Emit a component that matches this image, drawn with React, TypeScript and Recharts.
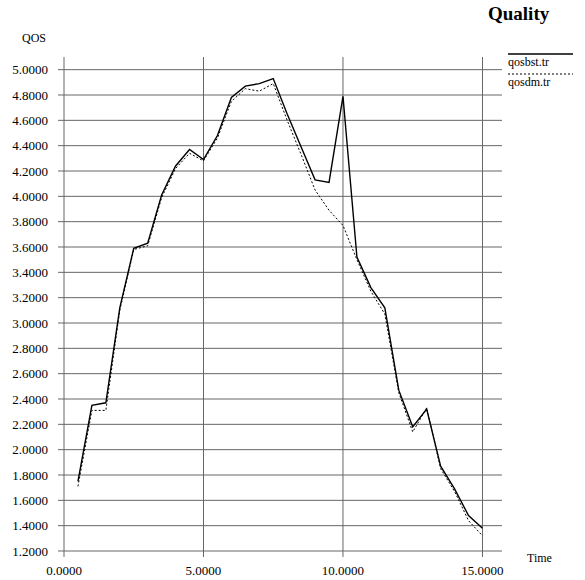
import { LineChart, Line, XAxis, YAxis, ReferenceLine } from "recharts";

const times = [
  0.5, 1.0, 1.5, 2.0, 2.5, 3.0, 3.5, 4.0, 4.5, 5.0, 5.5, 6.0, 6.5, 7.0, 7.5,
  8.0, 8.5, 9.0, 9.5, 10.0, 10.5, 11.0, 11.5, 12.0, 12.5, 13.0, 13.5, 14.0,
  14.5, 15.0,
];

const qosbst = [
  1.75, 2.35, 2.37, 3.12, 3.59, 3.63, 4.01, 4.24, 4.37, 4.29, 4.48, 4.78, 4.87,
  4.89, 4.93, 4.65, 4.39, 4.13, 4.11, 4.79, 3.52, 3.28, 3.12, 2.47, 2.18, 2.32,
  1.87, 1.69, 1.48, 1.38,
];

const qosdm = [
  1.71, 2.31, 2.31, 3.1, 3.58, 3.61, 3.99, 4.22, 4.34, 4.28, 4.46, 4.75, 4.85,
  4.83, 4.89, 4.6, 4.33, 4.05, 3.89, 3.77, 3.5, 3.25, 3.07, 2.45, 2.14, 2.33,
  1.85, 1.67, 1.44, 1.32,
];

const xTicks = [0, 5, 10, 15];
const yTicks = [
  1.2, 1.4, 1.6, 1.8, 2.0, 2.2, 2.4, 2.6, 2.8, 3.0, 3.2, 3.4, 3.6, 3.8, 4.0,
  4.2, 4.4, 4.6, 4.8, 5.0,
];

const series = [
  { key: "qosbst", label: "qosbst.tr", width: 1.4, dash: undefined },
  { key: "qosdm", label: "qosdm.tr", width: 1, dash: "2 2" },
];

const data = times.map((t, i) => ({ t, qosbst: qosbst[i], qosdm: qosdm[i] }));

const font = "'Liberation Serif', 'DejaVu Serif', serif";
const grid = "#666";

export default function App() {
  return (
    <div
      style={{
        position: "absolute",
        left: 0,
        top: 0,
        width: 585,
        height: 580,
        background: "#fff",
        fontFamily: font,
      }}
    >
      <div
        style={{
          position: "absolute",
          left: 488,
          top: 3,
          fontSize: 19,
          fontWeight: "bold",
        }}
      >
        Quality
      </div>
      <div style={{ position: "absolute", left: 22, top: 31, fontSize: 12 }}>
        QOS
      </div>
      <div style={{ position: "absolute", left: 527, top: 551, fontSize: 12 }}>
        Time
      </div>
      {/* legend */}
      <svg
        width={70}
        height={45}
        style={{ position: "absolute", left: 508, top: 51 }}
      >
        {series.map((s, i) => (
          <g key={s.key}>
            <line
              x1={0}
              x2={65}
              y1={3 + i * 20}
              y2={3 + i * 20}
              stroke="#000"
              strokeWidth={s.width}
              strokeDasharray={s.dash}
            />
            <text
              x={0}
              y={15 + i * 20}
              fontSize={12}
              fontFamily={font}
              fill="#000"
            >
              {s.label}
            </text>
          </g>
        ))}
      </svg>
      <LineChart
        width={585}
        height={580}
        data={data}
        margin={{ top: 57, right: 83, left: 0, bottom: 0 }}
      >
        {yTicks.map((v) => (
          <ReferenceLine key={"y" + v} y={v} stroke={grid} strokeWidth={1} />
        ))}
        {xTicks.map((v) => (
          <ReferenceLine key={"x" + v} x={v} stroke={grid} strokeWidth={1} />
        ))}
        <XAxis
          dataKey="t"
          type="number"
          domain={[0, 15.7]}
          ticks={xTicks}
          allowDataOverflow
          height={29}
          axisLine={false}
          tickLine={{ stroke: grid }}
          tickSize={6}
          tickMargin={9}
          tick={{ fill: "#000", fontSize: 13, fontFamily: font }}
          tickFormatter={(v: number) => v.toFixed(4)}
        />
        <YAxis
          type="number"
          domain={[1.2, 5.1]}
          ticks={yTicks}
          allowDataOverflow
          width={64}
          axisLine={false}
          tickLine={{ stroke: grid }}
          tickSize={6}
          tickMargin={10}
          tick={{ fill: "#000", fontSize: 13, fontFamily: font }}
          tickFormatter={(v: number) => v.toFixed(4)}
        />
        {series.map((s) => (
          <Line
            key={s.key}
            dataKey={s.key}
            name={s.label}
            stroke="#000"
            strokeWidth={s.width}
            strokeDasharray={s.dash}
            dot={false}
            activeDot={false}
            isAnimationActive={false}
          />
        ))}
      </LineChart>
    </div>
  );
}
